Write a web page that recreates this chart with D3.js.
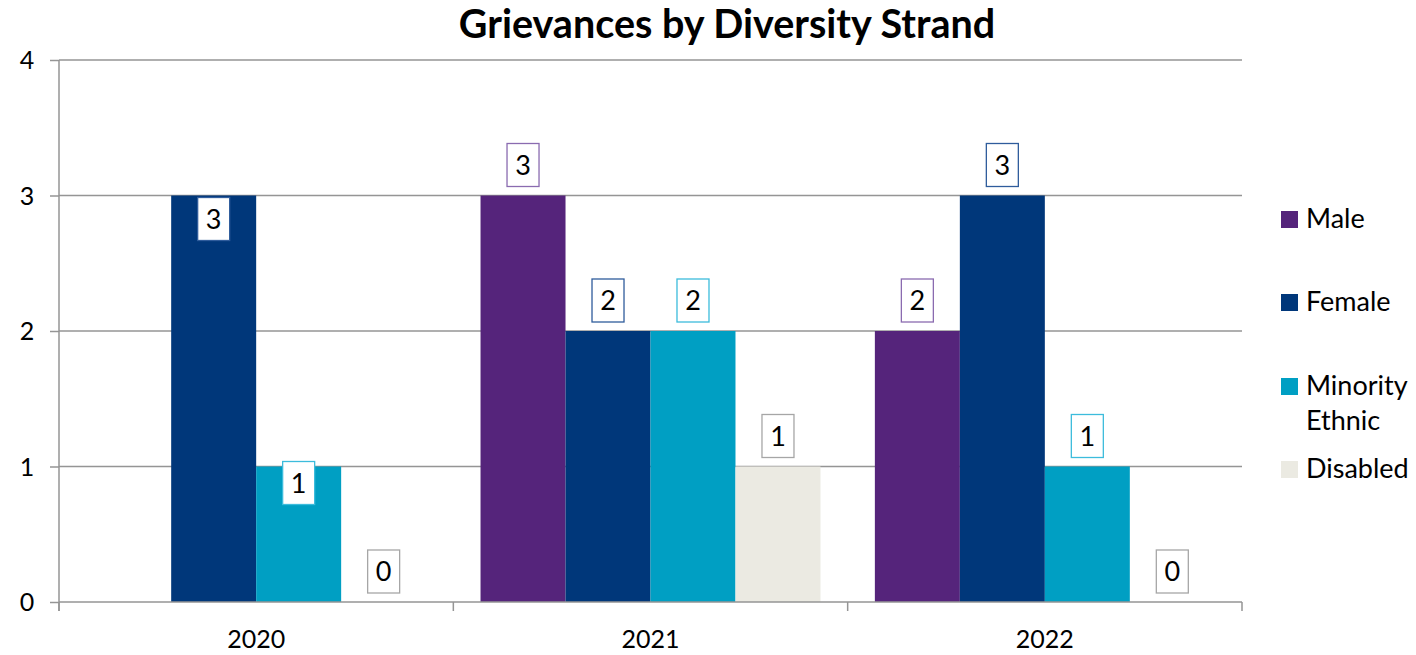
<!DOCTYPE html>
<html>
<head>
<meta charset="utf-8">
<script src="https://cdn.jsdelivr.net/npm/d3@7"></script>
<style>
  html, body { margin: 0; padding: 0; background: #fff; }
  svg { display: block; font-family: Lato, "Open Sans", sans-serif; }
</style>
</head>
<body>
<svg id="chart" width="1416" height="655"></svg>
<script>
// Grievances per year, split by diversity strand
const years = ["2020", "2021", "2022"];
const strands = ["Male", "Female", "Minority Ethnic", "Disabled"];
const male = [null, 3, 2];
const female = [3, 2, 3];
const minorityEthnic = [1, 2, 1];
const disabled = [0, 1, 0];
const yTicks = [0, 1, 2, 3, 4];

const seriesValues = [male, female, minorityEthnic, disabled];
const fills = ["#55247B", "#00377A", "#009FC3", "#EBEAE2"];
const labelBorders = ["#8A6BB0", "#2F5C9C", "#3CBCDC", "#A6A6A6"];

// a couple of value labels are tucked down into the top of their bars
const labelNudge = { "2020|Female": 54, "2020|Minority Ethnic": 47 };

const svg = d3.select("#chart");
const plot = { left: 59, right: 1242, top: 60, bottom: 602 };

const x0 = d3.scaleBand().domain(years).range([plot.left, plot.right]).paddingInner(0).paddingOuter(0);
const x1 = d3.scaleBand().domain(strands).range([0, x0.bandwidth()]).paddingInner(0).paddingOuter(0.32);
const y = d3.scaleLinear().domain([0, 4]).range([plot.bottom, plot.top]);

// title
svg.append("text")
  .attr("x", 727).attr("y", 38)
  .attr("text-anchor", "middle")
  .attr("font-weight", "bold")
  .attr("font-size", 39.5)
  .attr("fill", "#000")
  .text("Grievances by Diversity Strand");

// horizontal gridlines
svg.append("g")
  .selectAll("line")
  .data(yTicks.filter(t => t > 0))
  .join("line")
  .attr("x1", plot.left).attr("x2", plot.right)
  .attr("y1", d => y(d)).attr("y2", d => y(d))
  .attr("stroke", "#959595").attr("stroke-width", 1.5);

// y axis
const yAxis = d3.axisLeft(y).tickValues(yTicks).tickSize(9).tickPadding(23).tickFormat(d3.format("d"));
const gy = svg.append("g").attr("transform", `translate(${plot.left},0)`).call(yAxis);
gy.select(".domain").remove();
gy.selectAll(".tick line").attr("stroke", "#959595").attr("stroke-width", 1.5);
gy.selectAll(".tick text").attr("font-size", 25).attr("fill", "#000").attr("font-family", "Lato, sans-serif")
  .attr("text-anchor", "middle").attr("dy", "0.35em");
svg.append("line")
  .attr("x1", plot.left).attr("x2", plot.left)
  .attr("y1", plot.top).attr("y2", plot.bottom + 9)
  .attr("stroke", "#959595").attr("stroke-width", 1.5);

// bars
const groups = svg.append("g").selectAll("g")
  .data(years)
  .join("g")
  .attr("transform", d => `translate(${x0(d)},0)`);

const cells = years.flatMap((yr, i) => strands.map((s, j) => ({ year: yr, strand: s, j, value: seriesValues[j][i] })))
  .filter(d => d.value !== null);

groups.selectAll("rect")
  .data(yr => cells.filter(c => c.year === yr && c.value > 0))
  .join("rect")
  .attr("x", d => x1(d.strand))
  .attr("width", x1.bandwidth())
  .attr("y", d => y(d.value))
  .attr("height", d => y(0) - y(d.value))
  .attr("fill", d => fills[d.j]);

// x axis line and category ticks
svg.append("line")
  .attr("x1", plot.left).attr("x2", plot.right)
  .attr("y1", plot.bottom).attr("y2", plot.bottom)
  .attr("stroke", "#959595").attr("stroke-width", 1.5);
const xAxis = d3.axisBottom(x0).tickSize(0).tickPadding(28);
const gx = svg.append("g").attr("transform", `translate(0,${plot.bottom})`).call(xAxis);
gx.select(".domain").remove();
gx.selectAll(".tick text").attr("font-size", 25).attr("fill", "#000").attr("font-family", "Lato, sans-serif");
svg.append("g").selectAll("line")
  .data(years.map(yr => x0(yr)).concat([plot.right]))
  .join("line")
  .attr("x1", d => d).attr("x2", d => d)
  .attr("y1", plot.bottom).attr("y2", plot.bottom + 9)
  .attr("stroke", "#959595").attr("stroke-width", 1.5);

// value labels in outlined boxes
const boxW = 32, boxH = 43, gap = 9;
const labels = groups.selectAll("g.lbl")
  .data(yr => cells.filter(c => c.year === yr))
  .join("g")
  .attr("class", "lbl")
  .attr("transform", d => {
    const cx = x1(d.strand) + x1.bandwidth() / 2;
    const top = y(d.value) - gap - boxH + (labelNudge[d.year + "|" + d.strand] || 0);
    return `translate(${cx},${top})`;
  });
labels.append("rect")
  .attr("x", -boxW / 2).attr("y", 0)
  .attr("width", boxW).attr("height", boxH)
  .attr("fill", "#fff")
  .attr("stroke", d => labelBorders[d.j]).attr("stroke-width", 1.3);
labels.append("text")
  .attr("x", 0).attr("y", boxH / 2 + 9.5)
  .attr("text-anchor", "middle")
  .attr("font-size", 27)
  .attr("fill", "#000")
  .text(d => d.value);

// legend
const legendRows = [
  { name: "Male", lines: ["Male"], y: 211 },
  { name: "Female", lines: ["Female"], y: 294 },
  { name: "Minority Ethnic", lines: ["Minority", "Ethnic"], y: 378 },
  { name: "Disabled", lines: ["Disabled"], y: 461 }
];
const legend = svg.append("g").selectAll("g")
  .data(legendRows)
  .join("g")
  .attr("transform", d => `translate(1281,${d.y})`);
legend.append("rect")
  .attr("width", 17).attr("height", 17)
  .attr("fill", d => fills[strands.indexOf(d.name)]);
legend.each(function(d) {
  d3.select(this).selectAll("text")
    .data(d.lines)
    .join("text")
    .attr("x", 25)
    .attr("y", (t, i) => 17 + i * 35)
    .attr("font-size", 27)
    .attr("fill", "#000")
    .text(t => t);
});
</script>
</body>
</html>
